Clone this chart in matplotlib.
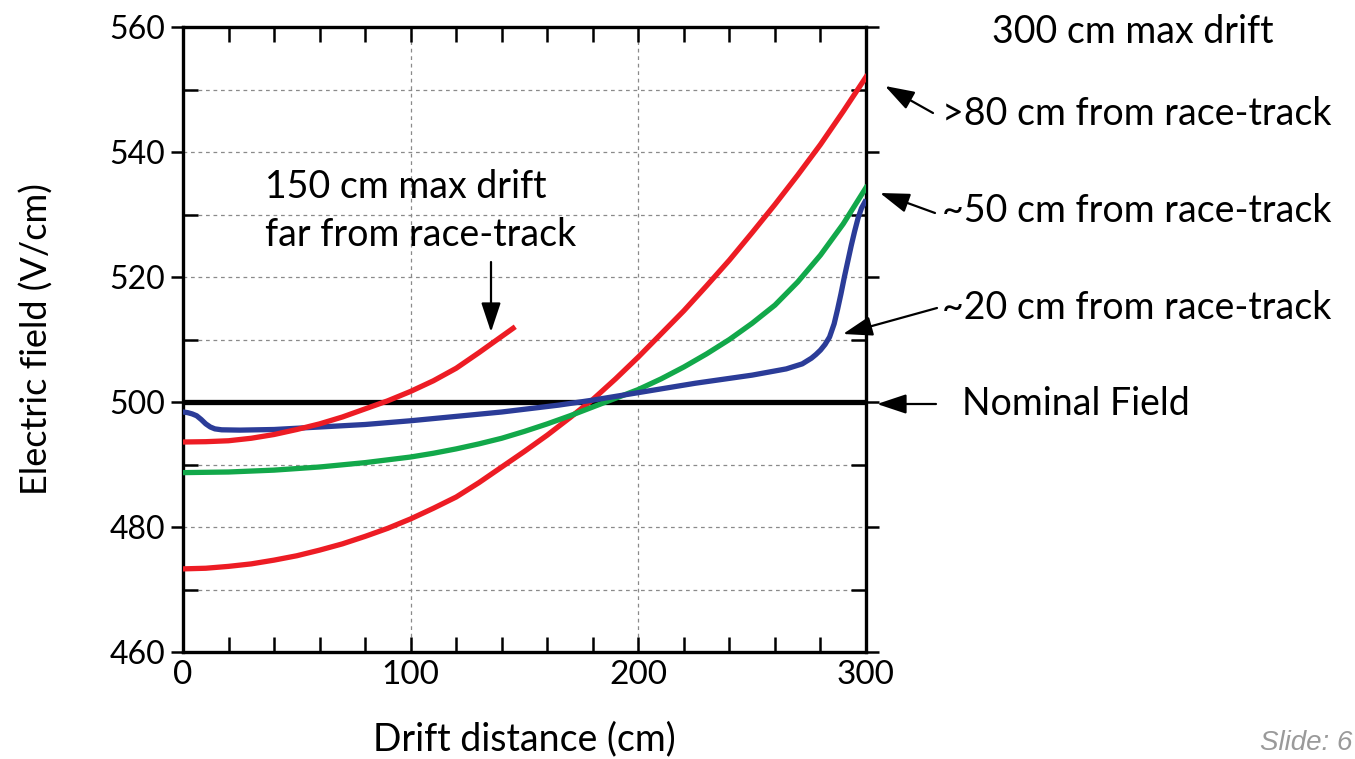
import matplotlib
matplotlib.use("Agg")
import matplotlib.pyplot as plt
from matplotlib.ticker import MultipleLocator

plt.rcParams["font.family"] = ["Lato", "DejaVu Sans"]

# Drift distance (cm) vs electric field (V/cm)
x_far80 = [0, 10, 20, 30, 40, 50, 60, 70, 80, 90, 100, 110, 120, 130, 140, 150,
           160, 170, 180, 190, 200, 210, 220, 230, 240, 250, 260, 270, 280, 290, 300]
e_far80 = [473.3, 473.4, 473.7, 474.1, 474.7, 475.4, 476.3, 477.3, 478.5, 479.8,
           481.3, 483.0, 484.8, 487.1, 489.6, 492.1, 494.7, 497.5, 500.4, 503.7,
           507.2, 510.9, 514.6, 518.6, 522.7, 527.1, 531.6, 536.3, 541.2, 546.5, 552.0]

x_mid50 = [0, 10, 20, 30, 40, 50, 60, 70, 80, 90, 100, 110, 120, 130, 140, 150,
           160, 170, 180, 190, 200, 210, 220, 230, 240, 250, 260, 270, 280, 290, 300]
e_mid50 = [488.7, 488.75, 488.8, 488.95, 489.1, 489.35, 489.6, 489.95, 490.3, 490.75,
           491.2, 491.8, 492.5, 493.3, 494.2, 495.3, 496.5, 497.8, 499.2, 500.6,
           502.0, 503.7, 505.6, 507.7, 510.0, 512.6, 515.5, 519.2, 523.5, 528.5, 534.3]

x_near20 = [0, 2, 4, 6, 8, 10, 12, 14, 17, 25, 40, 60, 80, 100, 120, 140, 165, 180,
            200, 225, 250, 265, 272, 276, 278, 280, 282, 284, 286, 287.5, 289, 290.5,
            292, 293.5, 295, 296.5, 298, 299.5]
e_near20 = [498.4, 498.3, 498.1, 497.8, 497.2, 496.5, 496.0, 495.7, 495.55, 495.5,
            495.6, 496.0, 496.4, 497.0, 497.7, 498.4, 499.5, 500.3, 501.5, 503.0,
            504.3, 505.3, 506.1, 507.0, 507.6, 508.3, 509.2, 510.4, 512.5, 514.8,
            517.3, 520.0, 522.5, 525.0, 527.3, 529.4, 531.0, 532.0]

x_short150 = [0, 10, 20, 30, 40, 50, 60, 70, 80, 90, 100, 110, 120, 130, 140, 145]
e_short150 = [493.6, 493.65, 493.8, 494.2, 494.8, 495.6, 496.5, 497.6, 498.9, 500.2,
              501.7, 503.4, 505.4, 507.9, 510.5, 511.8]

x_nominal = [0, 300]
e_nominal = [500, 500]

RED = "#ED1C24"
GREEN = "#12A84A"
BLUE = "#2B3C98"

W, H = 1355, 759
fig = plt.figure(figsize=(W / 100, H / 100), dpi=100)
ax = fig.add_axes([183 / W, 1 - 652 / H, (866 - 183) / W, (652 - 27) / H])

ax.set_xlim(0, 300)
ax.set_ylim(460, 560)

ax.set_xticks([0, 100, 200, 300])
ax.xaxis.set_minor_locator(MultipleLocator(20))
ax.set_yticks([460, 480, 500, 520, 540, 560])
ax.yaxis.set_minor_locator(MultipleLocator(10))

grid_style = dict(color="#8a8a8a", linestyle=(0, (3, 3)), linewidth=0.9)
ax.xaxis.grid(True, which="major", **grid_style)
ax.yaxis.grid(True, which="both", **grid_style)
ax.set_axisbelow(True)

for s in ax.spines.values():
    s.set_linewidth(2.4)

ax.tick_params(axis="x", which="both", direction="in", top=True, length=11, width=1.8,
               labelsize=24, pad=6)
ax.tick_params(axis="y", which="major", direction="out", length=9, width=1.8,
               labelsize=23, pad=4)
ax.tick_params(axis="y", which="minor", direction="in", right=True, length=11, width=1.8)
ax.tick_params(axis="y", which="major", right=True)

lw = 3.8
ax.plot(x_nominal, e_nominal, color="black", lw=lw, solid_capstyle="butt", zorder=3)
ax.plot(x_far80, e_far80, color=RED, lw=lw, zorder=4)
ax.plot(x_mid50, e_mid50, color=GREEN, lw=lw, zorder=4)
ax.plot(x_near20, e_near20, color=BLUE, lw=lw, zorder=4)
ax.plot(x_short150, e_short150, color=RED, lw=lw, zorder=4)

ax.set_xlabel("Drift distance (cm)", fontsize=27, labelpad=22)
ax.set_ylabel("Electric field (V/cm)", fontsize=26, labelpad=40)


def fp(x, y):
    # figure pixel coords with the origin at the top left
    return (x, H - y)


arrow = dict(arrowstyle="-|>,head_length=0.9,head_width=0.3", color="black", lw=1.6,
             shrinkA=0, shrinkB=0, mutation_scale=20)

fig.text(1133 / W, 1 - 32 / H, "300 cm max drift", fontsize=27, ha="center", va="center")

notes = [
    (">80 cm from race-track", (942, 114), (933, 113), (885, 86)),
    ("~50 cm from race-track", (942, 211), (935, 213), (880, 193)),
    ("~20 cm from race-track", (942, 308), (937, 308), (843, 334)),
    ("Nominal Field", (962, 404), (936, 404), (877, 404)),
]
for text, tpos, tail, head in notes:
    fig.text(tpos[0] / W, 1 - tpos[1] / H, text, fontsize=27, ha="left", va="center")
    ax.annotate("", xy=fp(*head), xytext=fp(*tail), xycoords="figure pixels",
                textcoords="figure pixels", arrowprops=arrow)

fig.text(265 / W, 1 - 187 / H, "150 cm max drift", fontsize=27, ha="left", va="center")
fig.text(265 / W, 1 - 235 / H, "far from race-track", fontsize=27, ha="left", va="center")
ax.annotate("", xy=fp(491, 332), xytext=fp(491, 262), xycoords="figure pixels",
            textcoords="figure pixels", arrowprops=arrow)

fig.text(1352 / W, 1 - 743 / H, "Slide: 6", fontsize=20, color="#9a9a9a",
         style="italic", ha="right", va="center", family=["Liberation Sans", "DejaVu Sans"])

fig.savefig("out.png", dpi=100)
